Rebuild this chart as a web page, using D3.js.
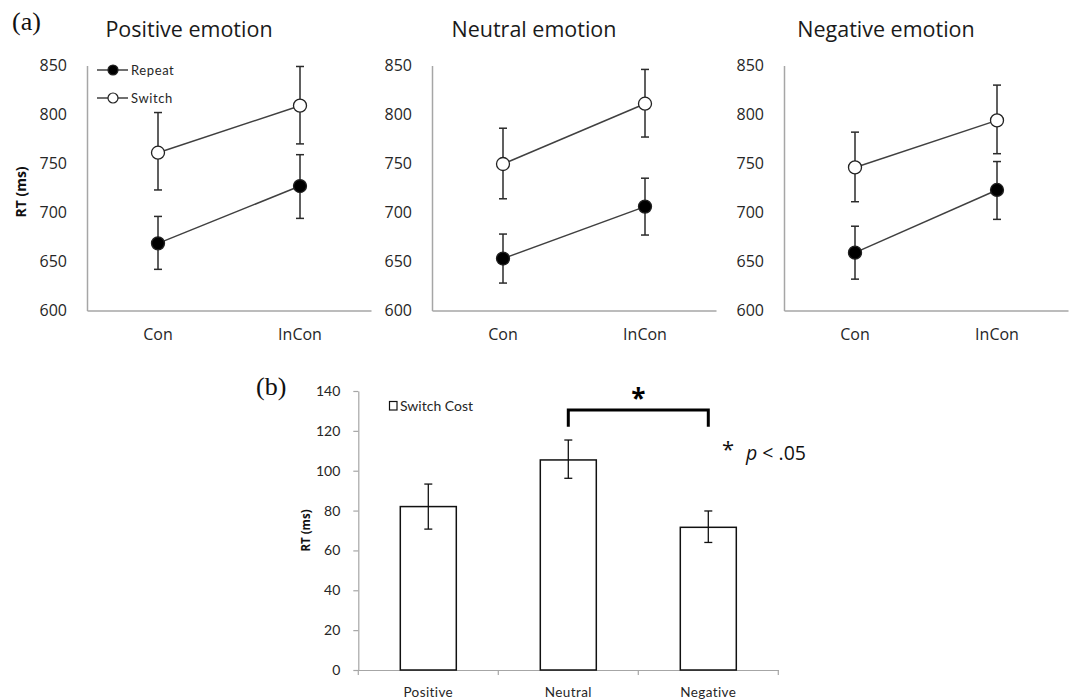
<!DOCTYPE html>
<html>
<head>
<meta charset="utf-8">
<script src="https://cdn.jsdelivr.net/npm/d3@7"></script>
<style>
  html, body { margin: 0; padding: 0; background: #fff; }
  svg { display: block; }
</style>
</head>
<body>
<svg id="chart" width="1071" height="700"></svg>
<script>
// ---------- Data ----------
const conditions = ["Con", "InCon"];
const emotionTitles = ["Positive emotion", "Neutral emotion", "Negative emotion"];
const seriesNames = ["Repeat", "Switch"];
// per emotion panel: [Con, InCon]
const repeatMeans = [[668.5, 727], [653, 706], [659, 723]];
const repeatUpper = [[696, 759], [678, 735], [686, 752]];
const repeatLower = [[642, 694], [628, 677], [632, 693]];
const switchMeans = [[761, 809], [749.5, 811], [746, 794]];
const switchUpper = [[802, 849], [786, 846], [782, 830]];
const switchLower = [[723, 770], [714, 777], [711, 760]];
const topTicks = [600, 650, 700, 750, 800, 850];

const costCategories = ["Positive", "Neutral", "Negative"];
const costMeans = [82, 105.4, 71.6];
const costUpper = [93.3, 115.4, 79.8];
const costLower = [70.7, 96.2, 64];
const bottomTicks = [0, 20, 40, 60, 80, 100, 120, 140];
const bracketPair = ["Neutral", "Negative"];
const bracketLevel = 130.5;
const bracketFoot = 122.1;

// ---------- Drawing ----------
const svg = d3.select("#chart");
const axisGray = "#a6a6a6";
const lineGray = "#404040";
const textCol = "#262626";
const topFont = "'Open Sans', 'Noto Sans', sans-serif";
const smallFont = "Lato, 'Open Sans', sans-serif";
const serifFont = "'Liberation Serif', 'DejaVu Serif', serif";

svg.append("text").attr("x", 12).attr("y", 30)
  .attr("font-family", serifFont)
  .attr("font-size", 26).attr("fill", "#111").text("(a)");

const panelX0 = [87, 432, 784];
const panelW = 284;
const yTopTop = 65.5, yTopBottom = 310.5;

const yTop = d3.scaleLinear().domain([600, 850]).range([yTopBottom, yTopTop]);

panelX0.forEach((x0, p) => {
  const g = svg.append("g");
  const x = d3.scaleBand().domain(conditions).range([x0, x0 + panelW]);
  const cx = c => x(c) + x.bandwidth() / 2;

  g.append("text").attr("x", x0 + 102).attr("y", 37)
    .attr("text-anchor", "middle")
    .attr("font-family", topFont).attr("font-size", 21.5)
    .attr("fill", "#1a1a1a").text(emotionTitles[p]);

  const ya = g.append("g").attr("transform", `translate(${x0},0)`)
    .call(d3.axisLeft(yTop).tickValues(topTicks).tickSize(0).tickPadding(20));
  ya.select(".domain").attr("stroke", axisGray).attr("stroke-width", 1.5);
  ya.selectAll("text").attr("font-family", topFont).attr("font-size", 16).attr("fill", textCol);

  const xa = g.append("g").attr("transform", `translate(0,${yTopBottom})`)
    .call(d3.axisBottom(x).tickSize(0).tickPadding(18));
  xa.select(".domain").attr("stroke", axisGray).attr("stroke-width", 1.5);
  xa.selectAll("text").attr("font-family", topFont).attr("font-size", 16).attr("fill", textCol);

  const series = [
    { name: "Switch", means: switchMeans[p], up: switchUpper[p], lo: switchLower[p], fill: "#fff" },
    { name: "Repeat", means: repeatMeans[p], up: repeatUpper[p], lo: repeatLower[p], fill: "#000" }
  ];

  series.forEach(s => {
    const pts = conditions.map((c, i) => ({ c, m: s.means[i], u: s.up[i], l: s.lo[i] }));
    g.append("path")
      .attr("d", d3.line().x(d => cx(d.c)).y(d => yTop(d.m))(pts))
      .attr("fill", "none").attr("stroke", lineGray).attr("stroke-width", 1.5);
    pts.forEach(d => {
      g.append("line").attr("x1", cx(d.c)).attr("x2", cx(d.c))
        .attr("y1", yTop(d.u)).attr("y2", yTop(d.l))
        .attr("stroke", "#2b2b2b").attr("stroke-width", 1.5);
      [d.u, d.l].forEach(v => {
        g.append("line").attr("x1", cx(d.c) - 4).attr("x2", cx(d.c) + 4)
          .attr("y1", yTop(v)).attr("y2", yTop(v))
          .attr("stroke", "#2b2b2b").attr("stroke-width", 1.5);
      });
    });
    g.selectAll(null).data(pts).enter().append("circle")
      .attr("cx", d => cx(d.c)).attr("cy", d => yTop(d.m)).attr("r", 6.5)
      .attr("fill", s.fill).attr("stroke", "#222").attr("stroke-width", 1.3);
  });
});

svg.append("text")
  .attr("transform", `translate(26,${(yTopTop + yTopBottom) / 2 + 4}) rotate(-90)`)
  .attr("text-anchor", "middle")
  .attr("font-family", topFont).attr("font-size", 14).attr("font-weight", "bold")
  .attr("fill", "#111").text("RT (ms)");

const legendY = [70, 98];
const legendFill = ["#000", "#fff"];
seriesNames.forEach((name, i) => {
  const gy = legendY[i];
  svg.append("line").attr("x1", 97).attr("x2", 128).attr("y1", gy).attr("y2", gy)
    .attr("stroke", lineGray).attr("stroke-width", 1.5);
  svg.append("circle").attr("cx", 113).attr("cy", gy).attr("r", 5)
    .attr("fill", legendFill[i]).attr("stroke", "#222").attr("stroke-width", 1.2);
  svg.append("text").attr("x", 131).attr("y", gy).attr("dy", "0.35em")
    .attr("font-family", smallFont).attr("font-size", 13).attr("letter-spacing", 0.6)
    .attr("fill", textCol).text(name);
});

// ---------- Bottom chart ----------
svg.append("text").attr("x", 256).attr("y", 395)
  .attr("font-family", serifFont)
  .attr("font-size", 26).attr("fill", "#111").text("(b)");

const bx0 = 358.3, bx1 = 778.3, by0 = 670, by1 = 391;
const xb = d3.scaleBand().domain(costCategories).range([bx0, bx1])
  .paddingInner(0.6).paddingOuter(0.3);
const yb = d3.scaleLinear().domain([0, 140]).range([by0, by1]);

const byA = svg.append("g").attr("transform", `translate(${bx0},0)`)
  .call(d3.axisLeft(yb).tickValues(bottomTicks).tickSize(5).tickPadding(13).tickSizeOuter(0));
byA.select(".domain").attr("stroke", axisGray).attr("stroke-width", 1.2);
byA.selectAll(".tick line").attr("stroke", axisGray).attr("stroke-width", 1.2);
byA.selectAll("text").attr("font-family", smallFont).attr("font-size", 14).attr("fill", textCol);

const bxA = svg.append("g").attr("transform", `translate(0,${by0})`)
  .call(d3.axisBottom(xb).tickSize(0).tickPadding(17).tickSizeOuter(0));
bxA.select(".domain").attr("stroke", axisGray).attr("stroke-width", 1.2);
bxA.selectAll("text").attr("font-family", smallFont).attr("font-size", 13.5)
  .attr("letter-spacing", 0.4).attr("fill", textCol);
const bounds = [xb.range()[0]].concat(costCategories.map(c => xb(c) + xb.bandwidth() / 2 + xb.step() / 2));
bounds.forEach(bx => {
  svg.append("line").attr("x1", bx).attr("x2", bx).attr("y1", by0).attr("y2", by0 + 5)
    .attr("stroke", axisGray).attr("stroke-width", 1.2);
});

svg.selectAll(null).data(costCategories).enter().append("rect")
  .attr("x", d => xb(d)).attr("width", xb.bandwidth())
  .attr("y", (d, i) => yb(costMeans[i]))
  .attr("height", (d, i) => yb(0) - yb(costMeans[i]))
  .attr("fill", "#fff").attr("stroke", "#111").attr("stroke-width", 1.5);

costCategories.forEach((c, i) => {
  const cx = xb(c) + xb.bandwidth() / 2;
  svg.append("line").attr("x1", cx).attr("x2", cx)
    .attr("y1", yb(costUpper[i])).attr("y2", yb(costLower[i]))
    .attr("stroke", "#111").attr("stroke-width", 1.3);
  [costUpper[i], costLower[i]].forEach(v => {
    svg.append("line").attr("x1", cx - 4).attr("x2", cx + 4)
      .attr("y1", yb(v)).attr("y2", yb(v))
      .attr("stroke", "#111").attr("stroke-width", 1.3);
  });
});

svg.append("text")
  .attr("transform", `translate(310,${yb(70)}) rotate(-90)`)
  .attr("text-anchor", "middle")
  .attr("font-family", topFont).attr("font-size", 11.5).attr("font-weight", "bold")
  .attr("fill", "#111").text("RT (ms)");

svg.append("rect").attr("x", 389.5).attr("y", 401.5).attr("width", 7.5).attr("height", 8.5)
  .attr("fill", "#fff").attr("stroke", "#111").attr("stroke-width", 1.2);
svg.append("text").attr("x", 400).attr("y", 406).attr("dy", "0.35em")
  .attr("font-family", smallFont).attr("font-size", 14).attr("fill", textCol).text("Switch Cost");

const bL = xb(bracketPair[0]) + xb.bandwidth() / 2;
const bR = xb(bracketPair[1]) + xb.bandwidth() / 2;
svg.append("path")
  .attr("d", `M${bL},${yb(bracketFoot)}V${yb(bracketLevel)}H${bR}V${yb(bracketFoot)}`)
  .attr("fill", "none").attr("stroke", "#000").attr("stroke-width", 3);
svg.append("text").attr("x", (bL + bR) / 2).attr("y", yb(bracketLevel) - 2)
  .attr("text-anchor", "middle")
  .attr("font-family", topFont).attr("font-size", 26).attr("font-weight", "bold")
  .attr("fill", "#000").text("*");

const note = svg.append("text").attr("x", 722).attr("y", 460)
  .attr("font-family", topFont).attr("font-size", 19.5).attr("fill", "#111");
note.append("tspan").attr("font-size", 22).attr("dy", -3).text("*");
note.append("tspan").attr("x", 746).attr("dy", 3).attr("font-style", "italic").text("p");
note.append("tspan").text(" < .05");
</script>
</body>
</html>
